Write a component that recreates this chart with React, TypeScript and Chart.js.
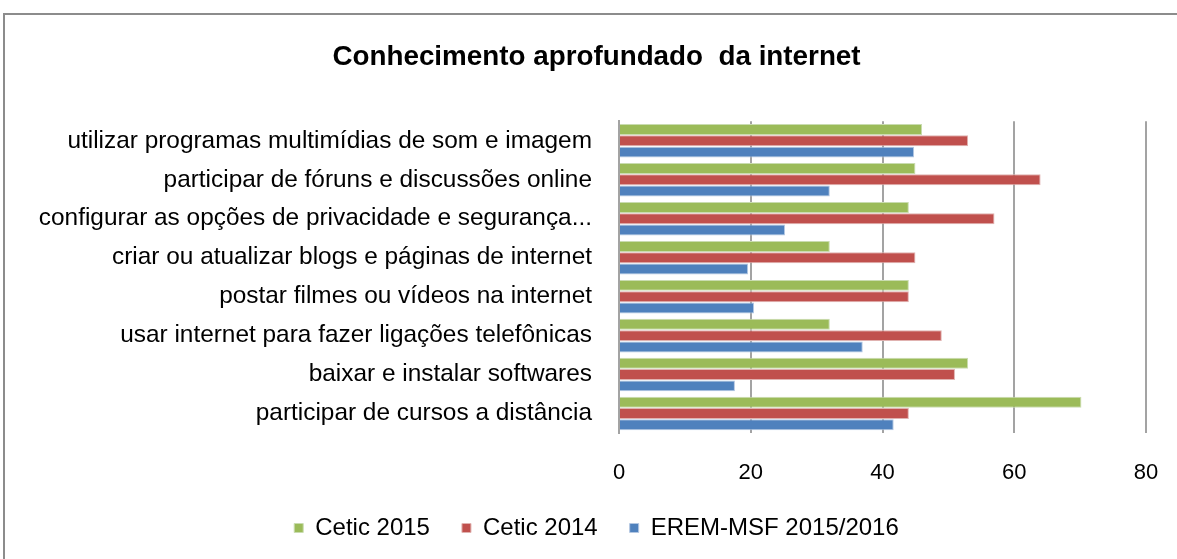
import React, { useEffect, useRef } from "react";
import { Chart, registerables } from "chart.js";

Chart.register(...registerables);

const categories = [
  "utilizar programas multimídias de som e imagem",
  "participar de fóruns e discussões online",
  "configurar as opções de privacidade e segurança...",
  "criar ou atualizar blogs e páginas de internet",
  "postar filmes ou vídeos na internet",
  "usar internet para fazer ligações telefônicas",
  "baixar e instalar softwares",
  "participar de cursos a distância",
];

const cetic2015 = [46, 45, 44, 32, 44, 32, 53, 70.2];
const cetic2014 = [53, 64, 57, 45, 44, 49, 51, 44];
const eremMsf = [44.8, 32, 25.2, 19.6, 20.5, 37, 17.6, 41.7];

const seriesNames = ["Cetic 2015", "Cetic 2014", "EREM-MSF 2015/2016"];
const xTicks = [0, 20, 40, 60, 80];

const FONT = "'Liberation Sans', Arial, sans-serif";
const PAD_LEFT = 47;

export default function App() {
  const canvasRef = useRef<HTMLCanvasElement>(null);

  useEffect(() => {
    if (!canvasRef.current) return;
    const chart = new Chart(canvasRef.current, {
      type: "bar",
      data: {
        labels: categories,
        datasets: [
          {
            label: seriesNames[0],
            data: cetic2015,
            backgroundColor: "#9bbb59",
            borderColor: "#c9dcb0",
            borderWidth: 1,
          },
          {
            label: seriesNames[1],
            data: cetic2014,
            backgroundColor: "#c0504d",
            borderColor: "#e0b2b0",
            borderWidth: 1,
          },
          {
            label: seriesNames[2],
            data: eremMsf,
            backgroundColor: "#4f81bd",
            borderColor: "#b3c7e2",
            borderWidth: 1,
          },
        ],
      },
      options: {
        indexAxis: "y",
        responsive: false,
        animation: false,
        layout: { padding: { left: PAD_LEFT, right: 31, top: 0, bottom: 9 } },
        datasets: {
          bar: { categoryPercentage: 0.87, barPercentage: 0.97 },
        },
        plugins: {
          title: {
            display: true,
            text: "Conhecimento aprofundado  da internet",
            color: "#000",
            font: { family: FONT, size: 27.8, weight: "bold" },
            padding: { top: 41, bottom: 47 },
          },
          legend: {
            display: true,
            position: "bottom",
            labels: {
              color: "#000",
              font: { family: FONT, size: 24 },
              boxWidth: 9,
              boxHeight: 9,
              padding: 32,
              useBorderRadius: false,
            },
          },
          tooltip: { enabled: false },
        },
        scales: {
          x: {
            type: "linear",
            min: 0,
            max: 80,
            afterBuildTicks: (scale: any) => {
              scale.ticks = xTicks.map((v) => ({ value: v }));
            },
            afterFit: (scale: any) => {
              scale.height = 51;
              scale.paddingRight = 0;
              scale.paddingLeft = 0;
            },
            grid: {
              color: "#a3a3a3",
              lineWidth: 2,
              drawTicks: false,
            },
            border: { display: false },
            ticks: {
              color: "#000",
              font: { family: FONT, size: 22 },
              padding: 27,
            },
          },
          y: {
            type: "category",
            afterFit: (scale: any) => {
              scale.width = 619 - PAD_LEFT;
            },
            afterUpdate: (scale: any) => {
              // let long category labels extend past the axis box (no clipping)
              scale._computeLabelArea = () => undefined;
            },
            grid: { display: false, drawTicks: false },
            border: { display: true, color: "#a3a3a3", width: 2 },
            ticks: {
              color: "#000",
              font: { family: FONT, size: 24.4 },
              padding: 27,
              autoSkip: false,
            },
          },
        },
      },
    });
    return () => chart.destroy();
  }, []);

  return (
    <div
      style={{
        position: "fixed",
        left: 0,
        top: 0,
        width: 1177,
        height: 559,
        overflow: "hidden",
        background: "#fff",
      }}
    >
      <div
        style={{
          position: "absolute",
          left: 3,
          top: 13,
          width: 1300,
          height: 700,
          border: "2px solid #8c8c8c",
          boxSizing: "border-box",
        }}
      />
      <canvas
        ref={canvasRef}
        width={1177}
        height={559}
        style={{ position: "absolute", left: 0, top: 0 }}
      />
    </div>
  );
}
